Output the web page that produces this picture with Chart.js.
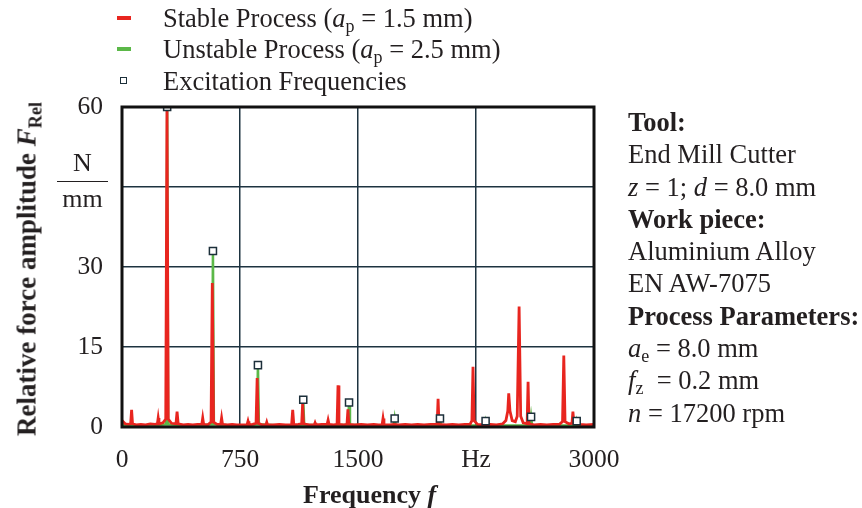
<!DOCTYPE html>
<html>
<head>
<meta charset="utf-8">
<script src="https://cdn.jsdelivr.net/npm/chart.js@4.4.1/dist/chart.umd.min.js"></script>
<style>
    body { margin: 0; background: #fff; }
    #wrap { position: relative; width: 862px; height: 508px; font-family: "Liberation Serif", "Times New Roman", serif; color: #231f20; }
    #grafico { position: absolute; left: 0; top: 0; }
    .txt { position: absolute; white-space: nowrap; font-size: 26.5px; line-height: 25px; }
    sub { font-size: 0.68em; vertical-align: -0.3em; line-height: 0; }
    .legenda-linha { position: absolute; left: 117px; width: 14px; height: 4px; }
    .legenda-quad { position: absolute; left: 120px; width: 5px; height: 5px; border: 1.5px solid #1c2f3a; background: #fff; }
    #painel { position: absolute; left: 628px; top: 106px; font-size: 26.5px; line-height: 32.3px; white-space: nowrap; }
    #titulo-y { position: absolute; left: 27px; top: 269px; transform: translate(-50%, -50%) rotate(-90deg); font-weight: bold; font-size: 27px; white-space: nowrap; }
    #unidade { position: absolute; left: 57px; top: 150px; width: 51px; text-align: center; font-size: 26px; }
    #unidade .barra { border-top: 1.5px solid #231f20; margin: 6px 0 4px 0; }
</style>
</head>
<body>
<div id="wrap">
    <canvas id="grafico" width="862" height="508"></canvas>

    <div class="legenda-linha" style="top:16px; background:#e8251f;"></div>
    <div class="txt" style="left:163px; top:6px;">Stable Process (<i>a</i><sub>p</sub> = 1.5 mm)</div>
    <div class="legenda-linha" style="top:47px; background:#5bb848;"></div>
    <div class="txt" style="left:163px; top:37px;">Unstable Process (<i>a</i><sub>p</sub> = 2.5 mm)</div>
    <div class="legenda-quad" style="top:77px;"></div>
    <div class="txt" style="left:163px; top:69px;">Excitation Frequencies</div>

    <div id="titulo-y">Relative force amplitude <i>F</i><sub>Rel</sub></div>
    <div id="unidade">
        <div style="line-height:25px;">N</div>
        <div class="barra"></div>
        <div style="line-height:25px;">mm</div>
    </div>
    <div class="txt" style="left:303px; top:482px; font-weight:bold; font-size:26px;">Frequency <i>f</i></div>

    <div id="painel">
        <b>Tool:</b><br>
        End Mill Cutter<br>
        <i>z</i> = 1; <i>d</i> = 8.0 mm<br>
        <b>Work piece:</b><br>
        Aluminium Alloy<br>
        EN AW-7075<br>
        <b>Process Parameters:</b><br>
        <i>a</i><sub>e</sub> = 8.0 mm<br>
        <i>f</i><sub>z</sub> &nbsp;= 0.2 mm<br>
        <i>n</i> = 17200 rpm
    </div>
</div>

<script>
// Espectro do processo estável (a_p = 1.5 mm)
const stableHz = [0, 20, 40, 55, 61, 67, 90, 120, 150, 180, 210, 225, 230, 235, 260, 278, 286, 294, 315,
    343, 350, 357, 390, 420, 450, 480, 507, 513, 519, 545, 566, 574, 582, 605, 627, 633, 639, 670, 700, 730,
    760, 795, 801, 807, 830, 852, 859, 866, 890, 915, 920, 925, 960, 1000, 1040, 1078, 1085, 1092, 1120,
    1142, 1148, 1154, 1190, 1222, 1227, 1232, 1270, 1304, 1310, 1316, 1345, 1367, 1373, 1379, 1410, 1430,
    1436, 1442, 1480, 1520, 1560, 1600, 1630, 1653, 1659, 1665, 1700, 1729, 1760, 1800, 1840, 1880, 1920,
    1960, 2003, 2009, 2015, 2060, 2100, 2140, 2180, 2212, 2224, 2231, 2238, 2260, 2300, 2340, 2380, 2420,
    2440, 2452, 2458, 2466, 2480, 2500, 2512, 2524, 2534, 2550, 2575, 2581, 2587, 2620, 2660, 2700, 2740,
    2780, 2800, 2808, 2816, 2840, 2860, 2866, 2872, 2910, 2950, 3000];
const stableAmp = [1.2, 0.6, 0.5, 0.6, 3.2, 0.6, 0.4, 0.5, 0.4, 0.6, 0.5, 0.6, 1.7, 0.6, 0.8, 1.5, 60, 1.5, 0.7,
    0.6, 2.9, 0.6, 0.4, 0.5, 0.4, 0.5, 0.5, 1.7, 0.5, 0.4, 0.9, 27, 0.9, 0.5, 0.5, 1.7, 0.5, 0.4, 0.5, 0.4,
    0.4, 0.4, 1.1, 0.4, 0.5, 0.7, 9.2, 0.7, 0.4, 0.4, 0.9, 0.4, 0.4, 0.5, 0.4, 0.4, 3.2, 0.4, 0.5,
    0.6, 4.3, 0.6, 0.4, 0.4, 0.8, 0.4, 0.5, 0.5, 1.3, 0.5, 0.4, 0.5, 7.8, 0.5, 0.4, 0.5,
    3.3, 0.5, 0.4, 0.5, 0.4, 0.5, 0.4, 0.4, 1.6, 0.4, 0.4, 0.5, 0.4, 0.5, 0.4, 0.5, 0.4,
    0.5, 0.5, 5.3, 0.5, 0.4, 0.5, 0.4, 0.5, 0.5, 1.2, 11.3, 1.2, 0.5, 0.4, 0.5, 0.4, 0.6,
    1.2, 3.0, 6.3, 3.0, 1.2, 1.0, 2.0, 22.6, 2.0, 0.8, 0.6, 8.5, 0.6, 0.4, 0.5, 0.4, 0.5,
    0.5, 1.0, 13.4, 1.0, 0.6, 0.7, 2.9, 0.7, 0.5, 0.4, 0.5];

// Espectro do processo instável (a_p = 2.5 mm)
const unstableHz = [0, 100, 200, 281, 287, 293, 400, 500, 572, 578, 584, 700, 800, 858, 864, 870, 1000, 1100,
    1146, 1152, 1158, 1300, 1437, 1443, 1449, 1600, 1727, 1733, 1739, 1900, 2015, 2021, 2027, 2200, 2305,
    2311, 2317, 2450, 2594, 2600, 2606, 2750, 2884, 2890, 2896, 3000];
const unstableAmp = [0.4, 0.3, 0.3, 0.5, 60, 0.5, 0.3, 0.3, 0.5, 33, 0.5, 0.3, 0.3, 0.5, 11.6, 0.5, 0.3, 0.3,
    0.4, 5.1, 0.4, 0.3, 0.4, 4.6, 0.4, 0.3, 0.3, 1.6, 0.3, 0.3, 0.3, 1.6, 0.3, 0.3, 0.3,
    1.1, 0.3, 0.3, 0.3, 1.9, 0.3, 0.3, 0.3, 1.1, 0.3, 0.3];

// Frequências de excitação (harmônicas da rotação)
const excitationHz = [287, 578, 864, 1152, 1443, 1733, 2021, 2311, 2600, 2890];
const excitationAmp = [60, 33, 11.6, 5.1, 4.6, 1.6, 1.6, 1.1, 1.9, 1.1];

// Ticks
const xTicks = [0, 750, 1500, 2250, 3000];
const xTickLabels = ['0', '750', '1500', 'Hz', '3000'];
const yTicks = [0, 15, 30, 45, 60];
const yTickLabels = ['0', '15', '30', '', '60'];

function pares(xs, ys) {
    return xs.map((x, i) => ({ x: x, y: ys[i] }));
}

// Moldura preta em volta da área do gráfico
const moldura = {
    id: 'moldura',
    afterDatasetsDraw(chart) {
        const a = chart.chartArea;
        const ctx = chart.ctx;
        ctx.save();
        ctx.strokeStyle = '#111';
        ctx.lineWidth = 3;
        ctx.strokeRect(a.left, a.top, a.right - a.left, a.bottom - a.top);
        ctx.restore();
    }
};

const fonteTick = { family: '"Liberation Serif", "Times New Roman", serif', size: 25.5 };

new Chart(document.getElementById('grafico'), {
    type: 'line',
    data: {
        datasets: [
            {
                label: 'Excitation Frequencies',
                data: pares(excitationHz, excitationAmp),
                showLine: false,
                pointStyle: 'rect',
                pointRadius: 5,
                pointBackgroundColor: '#fff',
                pointBorderColor: '#1c2f3a',
                pointBorderWidth: 1.5,
                order: 0
            },
            {
                label: 'Stable Process (ap = 1.5 mm)',
                data: pares(stableHz, stableAmp),
                borderColor: '#e8251f',
                borderWidth: 2.8,
                pointRadius: 0,
                tension: 0,
                order: 1
            },
            {
                label: 'Unstable Process (ap = 2.5 mm)',
                data: pares(unstableHz, unstableAmp),
                borderColor: '#5bb848',
                borderWidth: 2.5,
                pointRadius: 0,
                tension: 0,
                order: 2
            }
        ]
    },
    options: {
        responsive: false,
        animation: false,
        layout: { padding: { left: 0, top: 107, right: 268, bottom: 0 } },
        plugins: { legend: { display: false }, tooltip: { enabled: false } },
        scales: {
            x: {
                type: 'linear',
                min: 0,
                max: 3000,
                afterFit: scale => { scale.height = 81; },
                afterBuildTicks: scale => { scale.ticks = xTicks.map(v => ({ value: v })); },
                ticks: {
                    padding: 18,
                    color: '#231f20',
                    font: fonteTick,
                    maxRotation: 0,
                    callback: v => xTickLabels[xTicks.indexOf(v)]
                },
                grid: { color: '#1d3340', lineWidth: 1.5, drawTicks: false },
                border: { display: false }
            },
            y: {
                min: 0,
                max: 60,
                afterFit: scale => { scale.width = 122; },
                afterBuildTicks: scale => { scale.ticks = yTicks.map(v => ({ value: v })); },
                ticks: {
                    padding: 19,
                    color: '#231f20',
                    font: fonteTick,
                    callback: v => yTickLabels[yTicks.indexOf(v)]
                },
                grid: { color: '#1d3340', lineWidth: 1.5, drawTicks: false },
                border: { display: false }
            }
        }
    },
    plugins: [moldura]
});
</script>
</body>
</html>
